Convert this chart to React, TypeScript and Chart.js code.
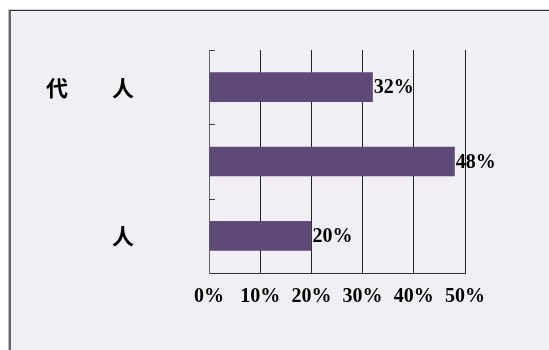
import { useEffect, useRef } from 'react';
import { Chart, registerables } from 'chart.js';

Chart.register(...registerables);

const categories = ['代　　人', '', '人'];
const values = [32, 48, 20];
const xTickValues = [0, 10, 20, 30, 40, 50];
const valueSuffix = '%';

const BAR_COLOR = '#5e4a79';
const BG = '#f1eff3';
const NUM_FONT = { family: '"Liberation Serif", serif', size: 20, weight: 'bold' as const };
const CJK_FONT = { family: '"Noto Sans CJK SC", sans-serif', size: 22, weight: 'bold' as const };

export default function App() {
  const ref = useRef<HTMLCanvasElement>(null);

  useEffect(() => {
    const canvas = ref.current;
    if (!canvas) return;

    const boundaryTicks = {
      id: 'boundaryTicks',
      afterDatasetsDraw(chart: any) {
        const { ctx, chartArea } = chart;
        const n = categories.length;
        const h = (chartArea.bottom - chartArea.top) / n;
        ctx.save();
        ctx.strokeStyle = '#444';
        ctx.lineWidth = 1;
        for (let i = 0; i < n; i++) {
          const y = Math.round(chartArea.top + i * h) + 0.5;
          ctx.beginPath();
          ctx.moveTo(chartArea.left, y);
          ctx.lineTo(chartArea.left + 6, y);
          ctx.stroke();
        }
        ctx.restore();
      },
    };

    const valueLabels = {
      id: 'valueLabels',
      afterDatasetsDraw(chart: any) {
        const { ctx } = chart;
        const meta = chart.getDatasetMeta(0);
        ctx.save();
        ctx.fillStyle = '#000';
        ctx.font = `${NUM_FONT.weight} ${NUM_FONT.size}px ${NUM_FONT.family}`;
        ctx.textAlign = 'left';
        ctx.textBaseline = 'middle';
        meta.data.forEach((bar: any, i: number) => {
          ctx.fillText(values[i] + valueSuffix, bar.x + 1, bar.y + 1);
        });
        ctx.restore();
      },
    };

    const chart = new Chart(canvas, {
      type: 'bar',
      data: {
        labels: categories,
        datasets: [
          {
            data: values,
            backgroundColor: BAR_COLOR,
            borderWidth: 0,
            barPercentage: 0.4,
            categoryPercentage: 1,
          },
        ],
      },
      options: {
        indexAxis: 'y',
        responsive: false,
        animation: false,
        layout: { padding: { left: 0, right: 84, top: 39, bottom: 37 } },
        plugins: { legend: { display: false }, tooltip: { enabled: false } },
        scales: {
          x: {
            min: xTickValues[0],
            max: xTickValues[xTickValues.length - 1],
            afterBuildTicks: (s: any) => {
              s.ticks = xTickValues.map((v) => ({ value: v }));
            },
            ticks: {
              callback: (v: any) => v + valueSuffix,
              padding: 12,
              color: '#000',
              font: NUM_FONT,
              maxRotation: 0,
            },
            grid: {
              drawTicks: false,
              lineWidth: 1,
              color: (ctx: any) => (ctx.index === 0 ? '#666' : '#222'),
            },
            border: { display: true, color: '#333', width: 1 },
            afterFit: (s: any) => {
              s.height = 40;
              s.paddingLeft = 0;
              s.paddingRight = 0;
            },
          },
          y: {
            ticks: { padding: 75, color: '#000', font: CJK_FONT },
            grid: { display: false, drawTicks: false },
            border: { display: true, color: '#666', width: 1 },
            afterFit: (s: any) => {
              s.width = 198;
              s.paddingTop = 0;
              s.paddingBottom = 0;
            },
          },
        },
      },
      plugins: [boundaryTicks, valueLabels],
    });

    return () => chart.destroy();
  }, []);

  return (
    <div
      style={{
        position: 'fixed',
        left: 8,
        top: 9,
        borderTop: '1px solid #d0d0d0',
        borderLeft: '1px solid #bdbdbd',
      }}
    >
      <div style={{ borderTop: '1px solid #333', borderLeft: '2px solid #666' }}>
        <canvas
          ref={ref}
          width={538}
          height={339}
          style={{ display: 'block', width: 538, height: 339, background: BG }}
        />
      </div>
    </div>
  );
}
